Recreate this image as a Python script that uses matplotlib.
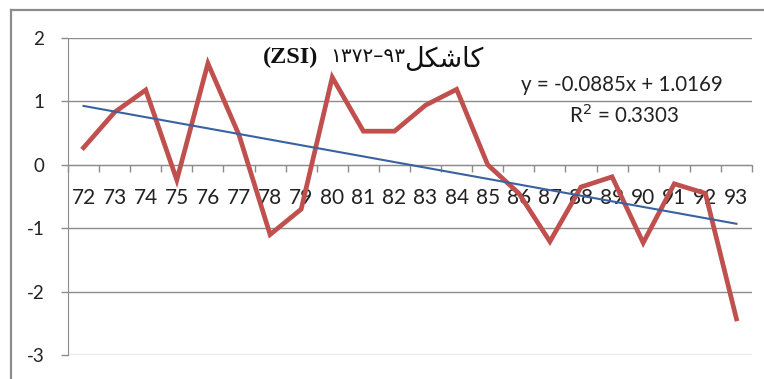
import numpy as np
import matplotlib
matplotlib.use("Agg")
import matplotlib.pyplot as plt
from matplotlib.lines import Line2D

# ZSI index, years 1372-1393
years = ["72", "73", "74", "75", "76", "77", "78", "79", "80", "81", "82",
         "83", "84", "85", "86", "87", "88", "89", "90", "91", "92", "93"]
zsi = [0.27, 0.83, 1.18, -0.24, 1.60, 0.47, -1.10, -0.70, 1.38, 0.53, 0.53,
       0.94, 1.19, 0.00, -0.45, -1.21, -0.35, -0.19, -1.23, -0.30, -0.45, -2.43]

# linear trend (excel style, x = 1..n)
slope = -0.0885
intercept = 1.0169
r2 = 0.3303

plt.rcParams['font.family'] = ['Lato', 'DejaVu Sans']

fig = plt.figure(figsize=(7.64, 3.79), dpi=100)
ax = fig.add_axes([68/764, 1-355/379, (752-68)/764, (355-38)/379])

x = np.arange(1, len(zsi) + 1)
trend = slope * x + intercept

ax.plot(x, zsi, color='#C0504D', lw=3.4, solid_joinstyle='miter', zorder=3)
ax.plot(x, trend, color='#3A62A0', lw=1.5, zorder=4)

ax.set_xlim(0.5, len(zsi) + 0.5)
ax.set_ylim(-3, 2)
ax.set_yticks([-3, -2, -1, 0, 1, 2])
ax.set_yticklabels(['-3', '-2', '-1', '0', '1', '2'])
ax.yaxis.grid(True, color='#8C8C8C', lw=1.0)
ax.set_axisbelow(True)

ax.set_xticks(x)
ax.set_xticklabels(years)
ax.set_xticks(np.arange(0.5, len(zsi) + 1, 1.0), minor=True)
ax.tick_params(axis='x', which='major', length=0, pad=17, labelsize=15, colors='#222222')
ax.tick_params(axis='x', which='minor', length=5, width=1, color='#8C8C8C', direction='out')
ax.tick_params(axis='y', length=5, width=1, color='#8C8C8C', pad=12, labelsize=13.5,
               labelcolor='#222222')

ax.spines['bottom'].set_position(('data', 0))
ax.spines['bottom'].set_color('#8C8C8C')
ax.spines['left'].set_color('#8C8C8C')
for s in ['top', 'right']:
    ax.spines[s].set_visible(False)

# title: (ZSI) 1372-93 shakhes (persian, presentation forms in visual order)
ty = 1 - 57/379
fig.text(263/764, ty, '(ZSI)', family='Liberation Serif', weight='bold',
         fontsize=17.5, va='center', ha='left', color='#111111')
fig.text(330/764, ty, '\u06F1\u06F3\u06F7\u06F2\u2013\u06F9\u06F3',
         family=['DejaVu Sans'], fontsize=14.5, va='center', ha='left', color='#111111')
fig.text(404/764, ty - 0.008, '\uFEDE\uFB91\uFEB7\uFE8E\uFB90',
         family=['DejaVu Sans'], fontsize=19.5, va='center', ha='left', color='#111111')

ax.text(622/764, 1-85/379, 'y = -0.0885x + 1.0169', transform=fig.transFigure,
        ha='center', va='center', fontsize=14.8, color='#222222')
ax.text(624/764, 1-115/379, 'R$^2$ = 0.3303', transform=fig.transFigure,
        ha='center', va='center', fontsize=14.8, color='#222222')

# outer chart frame
fig.add_artist(Line2D([11/764, 11/764], [0, 1-10/379], color='#8C8C8C', lw=1.6))
fig.add_artist(Line2D([11/764, 1], [1-10/379, 1-10/379], color='#8C8C8C', lw=1.6))

fig.savefig('out.png', dpi=100, facecolor='white')
